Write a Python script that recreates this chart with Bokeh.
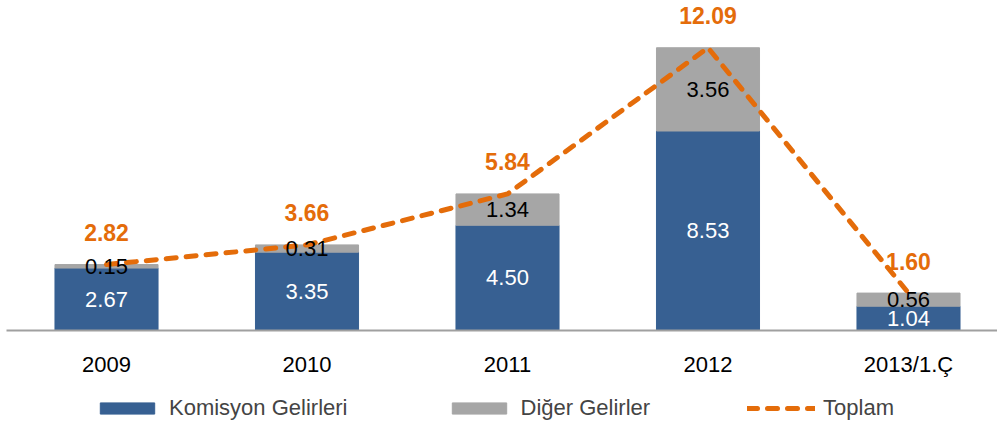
from bokeh.plotting import figure
from bokeh.layouts import column
from bokeh.models import ColumnDataSource, FixedTicker, Range1d, Legend, LegendItem, LabelSet
from bokeh.core.properties import value
from bokeh.embed import file_html
from bokeh.resources import INLINE

categories = ["2009", "2010", "2011", "2012", "2013/1.Ç"]
komisyon = [2.67, 3.35, 4.50, 8.53, 1.04]
diger = [0.15, 0.31, 1.34, 3.56, 0.56]
toplam = [2.82, 3.66, 5.84, 12.09, 1.60]
series_names = ["Komisyon Gelirleri", "Diğer Gelirler", "Toplam"]

FONT = "Liberation Sans"
BLUE = "#376092"
GRAY = "#A6A6A6"
ORANGE = "#E46C0A"

x_pos = list(range(len(categories)))
src = ColumnDataSource(dict(
    x=x_pos,
    kom=komisyon,
    dig=diger,
    tot=toplam,
    kom_mid=[k / 2 for k in komisyon],
    dig_mid=[k + d / 2 for k, d in zip(komisyon, diger)],
    kom_lbl=[f"{v:.2f}" for v in komisyon],
    dig_lbl=[f"{v:.2f}" for v in diger],
    tot_lbl=[f"{v:.2f}" for v in toplam],
))

p = figure(width=997, height=385,
           x_range=Range1d(-0.4988, 4.4439), y_range=Range1d(0, 14.11),
           output_backend="svg", toolbar_location=None, y_axis_location=None,
           min_border_left=6, min_border_right=0, min_border_top=0, min_border_bottom=55)
p.grid.visible = False
p.outline_line_color = None

bar_kw = dict(width=0.514, color=[BLUE, GRAY])
rs = p.vbar_stack(["kom", "dig"], x="x", source=src, **bar_kw)
line_kw = dict(line_color=ORANGE, line_width=5, line_dash="10 10", line_cap="round")
r_line = p.line("x", "tot", source=src, **line_kw)

xa = p.xaxis[0]
xa.ticker = FixedTicker(ticks=x_pos)
xa.major_label_overrides = {i: c for i, c in zip(x_pos, categories)}
xa.major_tick_line_color = None
xa.minor_tick_line_color = None
xa.axis_line_color = "#A0A0A0"
xa.axis_line_width = 2
xa.major_label_text_font = FONT
xa.major_label_text_font_size = "22px"
xa.major_label_text_color = "black"
xa.major_label_standoff = 15

p.add_layout(LabelSet(x="x", y="kom_mid", text="kom_lbl", source=src, text_align="center",
                      text_baseline="middle", text_color="white", text_font=value(FONT),
                      text_font_size="22px"))
p.add_layout(LabelSet(x="x", y="dig_mid", text="dig_lbl", source=src, text_align="center",
                      text_baseline="middle", text_color="black", text_font=value(FONT),
                      text_font_size="22px"))
p.add_layout(LabelSet(x="x", y="tot", text="tot_lbl", source=src, text_align="center",
                      text_baseline="middle", text_color=ORANGE, text_font=value(FONT),
                      text_font_style="bold", text_font_size="23px", y_offset=32))

# legend strip below the chart (glyphs out of view, only the legend shows)
lg = figure(width=997, height=42, x_range=Range1d(-0.4988, 4.4439), y_range=Range1d(100, 101),
            output_backend="svg", toolbar_location=None, x_axis_location=None,
            y_axis_location=None, min_border_left=0, min_border_right=0,
            min_border_top=0, min_border_bottom=0)
lg.grid.visible = False
lg.outline_line_color = None
lrs = lg.vbar_stack(["kom", "dig"], x="x", source=src, **bar_kw)
lline = lg.line("x", "tot", source=src, **line_kw)

legend = Legend(items=[LegendItem(label=series_names[0], renderers=[lrs[0]]),
                       LegendItem(label=series_names[1], renderers=[lrs[1]]),
                       LegendItem(label=series_names[2], renderers=[lline])],
                orientation="horizontal", location=(87, 6), glyph_width=68, glyph_height=14,
                label_standoff=8, spacing=97, padding=0, margin=0,
                border_line_color=None, background_fill_alpha=0,
                label_text_font=FONT, label_text_font_size="22px")
lg.add_layout(legend)

layout = column(p, lg, spacing=0)
open("out.html", "w").write(file_html(layout, INLINE))
